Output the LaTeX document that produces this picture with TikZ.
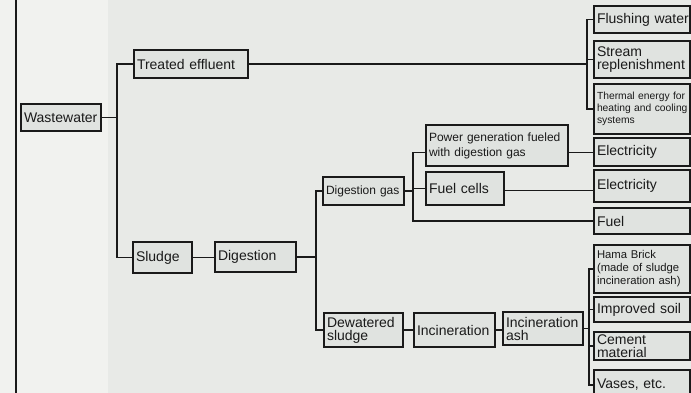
\documentclass[tikz,border=0pt]{standalone}
\usepackage{fontspec}
\setmainfont{Liberation Sans}
\definecolor{bgc}{HTML}{E8EAE7}
\definecolor{bgl}{HTML}{F1F2EF}
\definecolor{boxc}{HTML}{E0E3E0}
\definecolor{inkc}{HTML}{1A1A1A}
\tikzset{
  bx/.style={draw=inkc, fill=boxc, line width=1.3pt, inner xsep=3pt, inner ysep=0pt,
    align=left, text=inkc, font=\fontsize{14}{14}\selectfont, minimum height=#1},
  rc/.style={bx=#1, text width=90pt},
  conn/.style={draw=inkc, line width=1.3pt}
}
\begin{document}
\begin{tikzpicture}[x=1pt,y=-1pt]
\useasboundingbox (0,0) rectangle (691,393);
\fill[bgc] (0,0) rectangle (691,393);
\fill[bgl] (0,0) rectangle (108,393);
\draw[inkc, line width=1.8pt] (16,0) -- (16,393);

% left part
\node[bx=27pt, text width=74pt] (ww) at (61,117.5) {\mbox{Wastewater}};
\node[bx=28pt, text width=108pt] (te) at (191,64) {\mbox{Treated effluent}};
\node[bx=31pt, text width=53pt] (sl) at (162.5,257.5) {\mbox{Sludge}};
\node[bx=30pt, text width=75pt] (dg) at (255.5,257) {\mbox{Digestion}};
\node[bx=28pt, text width=75pt, font=\fontsize{12}{12}\selectfont] (dgas) at (363.5,191) {\mbox{Digestion gas}};
\node[bx=34pt, text width=73pt, font=\fontsize{14}{13}\selectfont] (dws) at (363.5,330) {\mbox{Dewatered}\\\mbox{sludge}};
\node[bx=41pt, text width=136pt, font=\fontsize{12}{15}\selectfont] (pg) at (497,145.5) {\mbox{Power generation fueled}\\\mbox{with digestion gas}};
\node[bx=33pt, text width=72pt] (fc) at (465,188.5) {\mbox{Fuel cells}};
\node[bx=34pt, text width=75pt] (inc) at (454.5,330) {\mbox{Incineration}};
\node[bx=33pt, text width=74pt, font=\fontsize{14}{13}\selectfont] (ash) at (543,328.5) {\mbox{Incineration}\\\mbox{ash}};

% right column
\node[rc=27pt] (fw) at (642,19.5) {\mbox{Flushing water}};
\node[rc=37pt, font=\fontsize{14}{13}\selectfont] (sr) at (642,59.5) {\mbox{Stream}\\\mbox{replenishment}};
\node[rc=50pt, font=\fontsize{10.3}{12}\selectfont] (th) at (642,109) {\mbox{Thermal energy for}\\\mbox{heating and cooling}\\\mbox{systems}};
\node[rc=28pt] (el1) at (642,152) {\mbox{Electricity}};
\node[rc=32pt] (el2) at (642,186) {\mbox{Electricity}};
\node[rc=26pt] (fu) at (642,221) {\mbox{Fuel}};
\node[rc=48pt, font=\fontsize{11.3}{13}\selectfont] (hb) at (642,269) {\mbox{Hama Brick}\\\mbox{(made of sludge}\\\mbox{incineration ash)}};
\node[rc=25pt] (is) at (642,309.5) {\mbox{Improved soil}};
\node[rc=28pt, font=\fontsize{14}{13}\selectfont] (cm) at (642,346) {\mbox{Cement}\\\mbox{material}};
\node[rc=30pt] (vs) at (642,385) {\mbox{Vases, etc.}};

% junction columns
\coordinate (j1) at (117,0);
\coordinate (j2) at (587,0);
\coordinate (j3) at (316,0);
\coordinate (j4) at (413,0);
\coordinate (j5) at (589,0);

% connectors
\draw[conn] (ww.east) -- (ww.east -| j1);
\draw[conn] (te.west) -- (te.west -| j1) |- (sl.west);
\draw[conn] (te.east) -- (te.east -| j2);
\draw[conn] (fw.west) -- (fw.west -| j2) |- (th.west);
\draw[conn] (sr.west) -- (sr.west -| j2);
\draw[conn] (sl.east) -- (sl.east -| dg.west);
\draw[conn] (dg.east) -- (dg.east -| j3);
\draw[conn] (dgas.west) -- (dgas.west -| j3) |- (dws.west);
\draw[conn] (dgas.east) -- (dgas.east -| j4);
\draw[conn] ([yshift=-7pt]pg.west) -| (j4 |- fu.west) -- (fu.west);
\draw[conn] (fc.west) -- (fc.west -| j4);
\draw[conn] ([yshift=-7pt]pg.east) -- ([yshift=-7pt]pg.east -| el1.west);
\draw[conn] ([yshift=-2pt]fc.east) -- ([yshift=-2pt]fc.east -| el2.west);
\draw[conn] (dws.east) -- (dws.east -| inc.west);
\draw[conn] (inc.east) -- (inc.east -| ash.west);
\draw[conn] (ash.east) -- (ash.east -| j5);
\draw[conn] (hb.west) -- (hb.west -| j5) |- (vs.west);
\draw[conn] (is.west) -- (is.west -| j5);
\draw[conn] (cm.west) -- (cm.west -| j5);
\end{tikzpicture}
\end{document}
